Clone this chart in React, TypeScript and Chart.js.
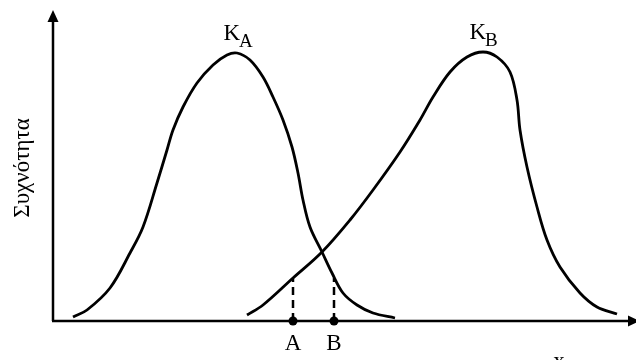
import React, { useEffect, useRef } from "react";
import { Chart, registerables } from "chart.js";

Chart.register(...registerables);

// Curve K_A (x position, frequency)
const curveAX = [20, 34, 57, 77, 90, 104, 114, 120, 130, 144, 160, 174, 184, 197, 210, 220, 230, 239, 245, 250, 257, 269, 279, 290, 304, 320, 342];
const curveAY = [4, 11, 33, 68, 94, 138, 171, 191, 214, 238, 256, 266, 268, 261, 244, 224, 201, 174, 148, 121, 94, 69, 48, 28, 16, 8, 3];

// Curve K_B
const curveBX = [194, 210, 240, 269, 297, 320, 347, 367, 380, 397, 414, 430, 444, 457, 464, 467, 474, 484, 494, 507, 527, 544, 564];
const curveBY = [6, 16, 43, 69, 101, 131, 169, 201, 224, 249, 264, 269, 264, 249, 221, 191, 154, 114, 81, 54, 28, 14, 7];

// Marked points on the x axis and the heights of their dashed guides
const markerLabels = ["A", "B"];
const markerX = [240, 281];
const markerHeight = [43, 43];

const curveLabels = ["A", "B"];
const yAxisTitle = "Συχνότητα";
const xAxisTitle = "x";

const X_MAX = 583;
const Y_MAX = 311;

const SERIF = '"Times New Roman", "Liberation Serif", serif';

export default function App() {
  const ref = useRef<HTMLCanvasElement | null>(null);

  useEffect(() => {
    document.body.style.margin = "0";
    const canvas = ref.current;
    if (!canvas) return;

    const toPts = (xs: number[], ys: number[]) => xs.map((x, i) => ({ x, y: ys[i] }));

    const decor = {
      id: "decor",
      afterDatasetsDraw(chart: any) {
        const { ctx } = chart;
        const xs = chart.scales.x;
        const ys = chart.scales.y;
        const x0 = xs.getPixelForValue(0);
        const y0 = ys.getPixelForValue(0);
        const yTop = ys.getPixelForValue(Y_MAX);
        const xEnd = xs.getPixelForValue(X_MAX);
        ctx.save();
        ctx.strokeStyle = "#000";
        ctx.fillStyle = "#000";
        ctx.lineWidth = 2.5;
        // axes
        ctx.beginPath();
        ctx.moveTo(x0, y0);
        ctx.lineTo(x0, yTop + 8);
        ctx.moveTo(x0 - 1, y0);
        ctx.lineTo(xEnd - 6, y0);
        ctx.stroke();
        // arrowheads
        ctx.beginPath();
        ctx.moveTo(x0, yTop);
        ctx.lineTo(x0 - 5.5, yTop + 12);
        ctx.lineTo(x0 + 5.5, yTop + 12);
        ctx.closePath();
        ctx.fill();
        ctx.beginPath();
        ctx.moveTo(xEnd + 4, y0);
        ctx.lineTo(xEnd - 8, y0 - 5.5);
        ctx.lineTo(xEnd - 8, y0 + 5.5);
        ctx.closePath();
        ctx.fill();

        // marker dots on the axis
        markerX.forEach((mx) => {
          ctx.beginPath();
          ctx.arc(xs.getPixelForValue(mx), y0, 4.5, 0, Math.PI * 2);
          ctx.fill();
        });

        // marker labels
        ctx.font = `23px ${SERIF}`;
        ctx.textAlign = "center";
        ctx.textBaseline = "alphabetic";
        markerLabels.forEach((lab, i) => {
          ctx.fillText(lab, xs.getPixelForValue(markerX[i]), y0 + 29);
        });

        // curve labels at peaks
        const peaks = [
          { xs: curveAX, ys: curveAY },
          { xs: curveBX, ys: curveBY },
        ];
        peaks.forEach((c, i) => {
          let mi = 0;
          c.ys.forEach((v, j) => { if (v > c.ys[mi]) mi = j; });
          const px = xs.getPixelForValue(c.xs[mi]);
          const py = ys.getPixelForValue(c.ys[mi]);
          ctx.textAlign = "right";
          ctx.font = `23px ${SERIF}`;
          ctx.fillText("K", px + 3, py - 13);
          ctx.textAlign = "left";
          ctx.font = `19px ${SERIF}`;
          ctx.fillText(curveLabels[i], px + 2, py - 6);
        });

        // x axis title (partly cut off)
        ctx.textAlign = "center";
        ctx.font = `23px ${SERIF}`;
        ctx.fillText(xAxisTitle, 559, y0 + 47);

        // y axis title
        ctx.translate(29, 168);
        ctx.rotate(-Math.PI / 2);
        ctx.textAlign = "center";
        ctx.font = `23px ${SERIF}`;
        ctx.fillText(yAxisTitle, 0, 0);
        ctx.restore();
      },
    };

    const lineStyle = {
      borderColor: "#000",
      borderWidth: 2.8,
      pointRadius: 0,
      showLine: true,
      fill: false,
      tension: 0.35,
    };

    const chart = new Chart(canvas, {
      type: "scatter",
      data: {
        datasets: [
          { ...lineStyle, data: toPts(curveAX, curveAY) },
          { ...lineStyle, data: toPts(curveBX, curveBY) },
          ...markerX.map((mx, i) => ({
            data: [{ x: mx, y: 0 }, { x: mx, y: markerHeight[i] }],
            borderColor: "#000",
            borderWidth: 2.5,
            borderDash: [8, 5],
            pointRadius: 0,
            showLine: true,
          })),
        ],
      },
      options: {
        animation: false,
        responsive: false,
        maintainAspectRatio: false,
        layout: { padding: { left: 53, right: 0, top: 10, bottom: 39 } },
        plugins: { legend: { display: false }, tooltip: { enabled: false } },
        scales: {
          x: { type: "linear", min: 0, max: X_MAX, display: false },
          y: { type: "linear", min: 0, max: Y_MAX, display: false },
        },
      },
      plugins: [decor],
    });
    return () => chart.destroy();
  }, []);

  return (
    <div style={{ position: "absolute", left: 0, top: 0, width: 636, height: 360, background: "#fff" }}>
      <canvas ref={ref} width={636} height={360} />
    </div>
  );
}
